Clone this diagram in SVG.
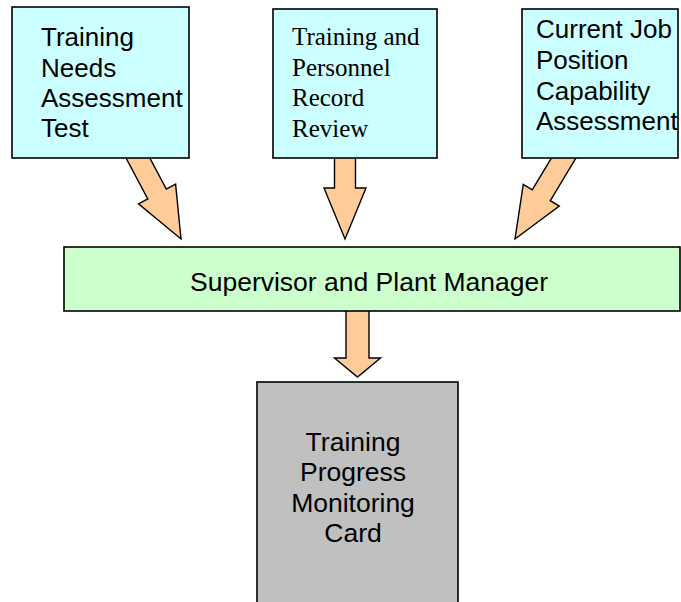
<svg xmlns="http://www.w3.org/2000/svg" xmlns:xlink="http://www.w3.org/1999/xlink" width="681" height="602" viewBox="0 0 681 602">
  <style>
    .box { stroke: #000; stroke-width: 1.6; }
    .input { fill: #CCFFFF; }
    .review { fill: #CCFFCC; }
    .output { fill: #C0C0C0; }
    .flow { fill: #FFCC99; stroke: #000; stroke-width: 1.4; stroke-linejoin: miter; }
    .sans { font-family: "Liberation Sans", Arial, sans-serif; fill: #000; }
    .serif { font-family: "Liberation Serif", "Times New Roman", serif; fill: #000; }
  </style>
  <defs>
    <!-- block arrow pointing down, tip at the origin -->
    <polygon id="arrow-in" points="-10.5,-110 10.5,-110 10.5,-51 21,-51 0,0 -21,-51 -10.5,-51"/>
    <polygon id="arrow-out" points="-11.5,-75 11.5,-75 11.5,-19 23,-19 0,0 -23,-19 -11.5,-19"/>
  </defs>

  <g id="connectors">
    <use xlink:href="#arrow-in" class="flow" transform="translate(181,239) rotate(-28)"/>
    <use xlink:href="#arrow-in" class="flow" transform="translate(345,239)"/>
    <use xlink:href="#arrow-in" class="flow" transform="translate(515,239) rotate(31)"/>
    <use xlink:href="#arrow-out" class="flow" transform="translate(357.5,377)"/>
  </g>

  <g id="needs-assessment">
    <rect class="box input" x="12" y="7" width="177" height="151"/>
    <g class="sans" font-size="26">
      <text x="41" y="46">Training</text>
      <text x="41" y="77">Needs</text>
      <text x="41" y="107">Assessment</text>
      <text x="41" y="137">Test</text>
    </g>
  </g>

  <g id="record-review">
    <rect class="box input" x="273" y="9" width="164" height="149"/>
    <g class="serif" font-size="25">
      <text x="292" y="45">Training and</text>
      <text x="292" y="76">Personnel</text>
      <text x="292" y="106">Record</text>
      <text x="292" y="137">Review</text>
    </g>
  </g>

  <g id="capability-assessment">
    <rect class="box input" x="522" y="9" width="156" height="149"/>
    <g class="sans" font-size="26">
      <text x="536" y="38">Current Job</text>
      <text x="536" y="69">Position</text>
      <text x="536" y="99.5">Capability</text>
      <text x="536" y="130">Assessment</text>
    </g>
  </g>

  <g id="supervisor">
    <rect class="box review" x="64" y="247" width="616" height="64"/>
    <text class="sans" font-size="26.5" x="369" y="290.5" text-anchor="middle">Supervisor and Plant Manager</text>
  </g>

  <g id="monitoring-card">
    <rect class="box output" x="257" y="382" width="201" height="240"/>
    <g class="sans" font-size="26.5" text-anchor="middle">
      <text x="353" y="451">Training</text>
      <text x="353" y="481">Progress</text>
      <text x="353" y="512">Monitoring</text>
      <text x="353" y="542">Card</text>
    </g>
  </g>
</svg>
